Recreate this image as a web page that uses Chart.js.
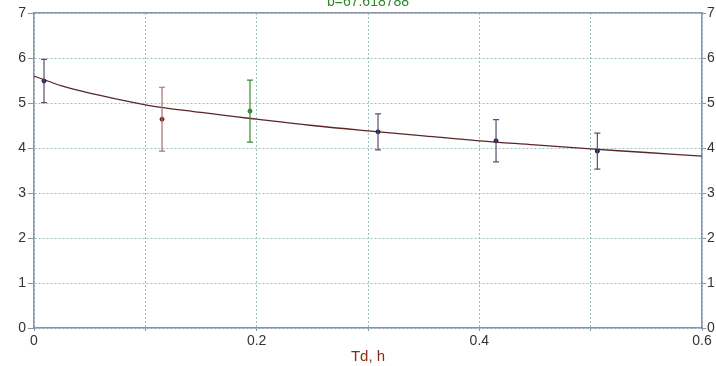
<!DOCTYPE html>
<html>
<head>
<meta charset="utf-8">
<script src="https://cdn.jsdelivr.net/npm/chart.js@4/dist/chart.umd.min.js"></script>
<style>
  html, body { margin: 0; padding: 0; background: #fff; }
  #wrap { width: 716px; height: 366px; }
</style>
</head>
<body>
<div id="wrap"><canvas id="chart" width="716" height="366"></canvas></div>
<script>
// fitted curve
const curveX = [0, 0.025, 0.05, 0.1, 0.15, 0.2, 0.25, 0.3, 0.35, 0.4, 0.45, 0.5, 0.55, 0.6];
const curveY = [5.6, 5.38, 5.22, 4.96, 4.79, 4.64, 4.5, 4.38, 4.27, 4.16, 4.07, 3.98, 3.9, 3.82];

// measured points with error bars
const pointX = [0.009, 0.115, 0.194, 0.309, 0.415, 0.506];
const pointY = [5.49, 4.64, 4.82, 4.36, 4.16, 3.93];
const pointErr = [0.48, 0.71, 0.69, 0.4, 0.47, 0.4];
const pointColors = ['#1c1c50', '#7a1a1a', '#2a8a2a', '#1c1c50', '#1c1c50', '#1c1c50'];
const barColors = ['#5a5070', '#a87070', '#3a8a3a', '#5a5070', '#5a5070', '#5a5070'];

const yTicks = [0, 1, 2, 3, 4, 5, 6, 7];
const titleText = 'b=67.618788';
const xTitle = 'Td, h';

const axisColor = '#8a94a8';
const gridColor = '#9cc0c0';
const tickFont = { family: 'Liberation Sans, Arial, sans-serif', size: 14 };

const errorBars = {
  id: 'errorBars',
  afterDatasetsDraw(chart) {
    const { ctx, scales: { x, y } } = chart;
    ctx.save();
    ctx.lineWidth = 1.2;
    pointX.forEach((px, i) => {
      const cx = x.getPixelForValue(px);
      const top = y.getPixelForValue(pointY[i] + pointErr[i]);
      const bot = y.getPixelForValue(pointY[i] - pointErr[i]);
      ctx.strokeStyle = barColors[i];
      ctx.beginPath();
      ctx.moveTo(cx, top); ctx.lineTo(cx, bot);
      ctx.moveTo(cx - 3, top); ctx.lineTo(cx + 3, top);
      ctx.moveTo(cx - 3, bot); ctx.lineTo(cx + 3, bot);
      ctx.stroke();
    });
    ctx.restore();
  }
};

const topTitle = {
  id: 'topTitle',
  afterDraw(chart) {
    const { ctx, chartArea } = chart;
    ctx.save();
    ctx.fillStyle = '#2a8a2a';
    ctx.font = '14px Liberation Sans, Arial, sans-serif';
    ctx.textAlign = 'center';
    ctx.textBaseline = 'alphabetic';
    ctx.fillText(titleText, (chartArea.left + chartArea.right) / 2, 6);
    ctx.restore();
  }
};

new Chart(document.getElementById('chart'), {
  data: {
    datasets: [
      {
        type: 'line',
        data: curveX.map((v, i) => ({ x: v, y: curveY[i] })),
        borderColor: '#5a2626',
        borderWidth: 1.3,
        pointRadius: 0,
        tension: 0.4,
        order: 2
      },
      {
        type: 'scatter',
        data: pointX.map((v, i) => ({ x: v, y: pointY[i] })),
        backgroundColor: pointColors,
        borderColor: pointColors,
        pointRadius: 2,
        order: 1
      }
    ]
  },
  options: {
    responsive: false,
    animation: false,
    layout: { padding: 0 },
    plugins: { legend: { display: false }, tooltip: { enabled: false } },
    scales: {
      x: {
        type: 'linear',
        position: 'bottom',
        min: 0, max: 0.6,
        afterFit: s => { s.height = 38; },
        ticks: {
          stepSize: 0.1,
          autoSkip: false,
          maxRotation: 0,
          color: '#333',
          font: tickFont,
          padding: 2,
          callback: v => (Math.round(v * 10) % 2 === 0 ? String(+v.toFixed(1)) : '')
        },
        grid: { color: gridColor, tickColor: axisColor, tickLength: 3 },
        border: { color: axisColor, width: 1.5, dash: [2, 2] },
        title: { display: true, text: xTitle, color: '#8b2a1a', font: { family: 'Liberation Sans, Arial, sans-serif', size: 15 }, padding: { top: 0, bottom: 0 } }
      },
      xTop: {
        type: 'linear',
        position: 'top',
        min: 0, max: 0.6,
        afterFit: s => { s.height = 13; },
        ticks: { display: false },
        grid: { display: false },
        border: { color: axisColor, width: 1.5 }
      },
      y: {
        position: 'left',
        min: 0, max: 7,
        afterFit: s => { s.width = 34; },
        afterBuildTicks: s => { s.ticks = yTicks.map(v => ({ value: v })); },
        ticks: { color: '#333', font: tickFont, padding: 2 },
        grid: { color: gridColor, tickColor: axisColor, tickLength: 6 },
        border: { color: axisColor, width: 1.5, dash: [2, 2] }
      },
      yRight: {
        position: 'right',
        min: 0, max: 7,
        afterFit: s => { s.width = 14; },
        afterBuildTicks: s => { s.ticks = yTicks.map(v => ({ value: v })); },
        ticks: { color: '#333', font: tickFont, padding: 1 },
        grid: { drawOnChartArea: false, tickColor: axisColor, tickLength: 4 },
        border: { color: axisColor, width: 1.5 }
      }
    }
  },
  plugins: [errorBars, topTitle]
});
</script>
</body>
</html>
